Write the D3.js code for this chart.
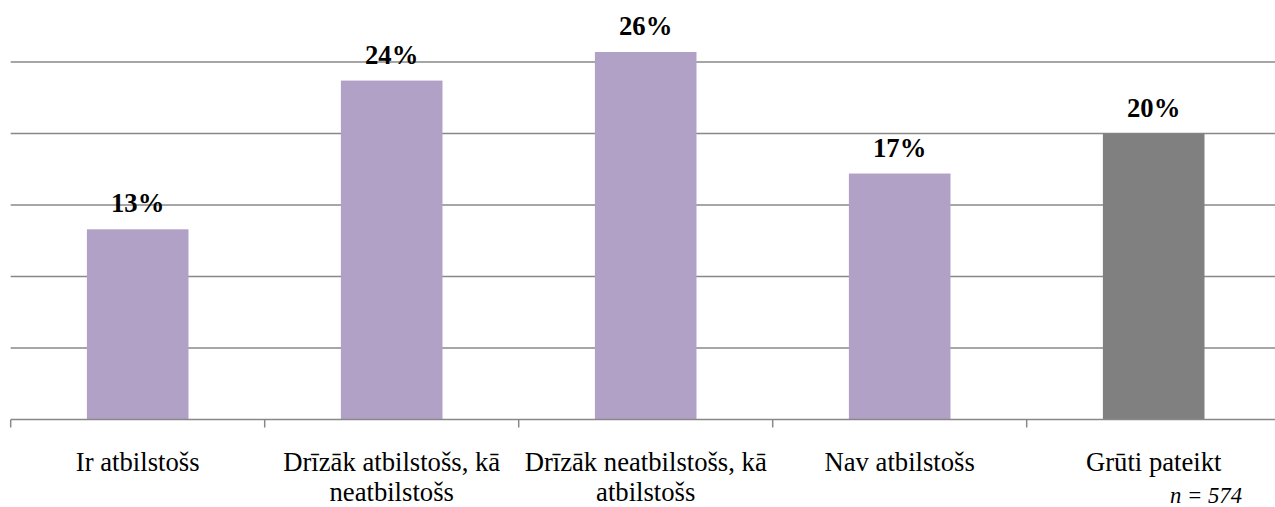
<!DOCTYPE html>
<html>
<head>
<meta charset="utf-8">
<script src="https://cdn.jsdelivr.net/npm/d3@7"></script>
</head>
<body style="margin:0">
<svg id="chart" width="1275" height="507" font-family="Liberation Serif" style="display:block"></svg>
<script>
const categories = [
    "Ir atbilstošs",
    "Drīzāk atbilstošs, kā neatbilstošs",
    "Drīzāk neatbilstošs, kā atbilstošs",
    "Nav atbilstošs",
    "Grūti pateikt"
];
const values = [13.3, 23.7, 25.7, 17.2, 20.0];
const labels = ["13%", "24%", "26%", "17%", "20%"];
const colors = ["#b2a1c7", "#b2a1c7", "#b2a1c7", "#b2a1c7", "#808080"];
const gridTicks = [5, 10, 15, 20, 25];
const note = "n = 574";

const width = 1275;
const left = 10.7, right = 1280.7;
const zeroY = 419.5, topY = 62; // 0% and 25%

const svg = d3.select("#chart");

// bars take 40% of each category slot, centred
const x = d3.scaleBand()
    .domain(categories)
    .range([left, right])
    .paddingInner(0.6)
    .paddingOuter(0.3);

const y = d3.scaleLinear()
    .domain([0, 25])
    .range([zeroY, topY]);

const step = x.step();

// gridlines
svg.append("g")
    .selectAll("line")
    .data(gridTicks)
    .enter()
    .append("line")
    .attr("x1", left)
    .attr("x2", width)
    .attr("y1", d => y(d))
    .attr("y2", d => y(d))
    .attr("stroke", "#888")
    .attr("stroke-width", 1.5);

// bars
svg.append("g")
    .selectAll("rect")
    .data(values)
    .enter()
    .append("rect")
    .attr("x", (d, i) => x(categories[i]))
    .attr("width", x.bandwidth())
    .attr("y", d => y(d))
    .attr("height", d => y(0) - y(d))
    .attr("fill", (d, i) => colors[i]);

// value labels
svg.append("g")
    .selectAll("text")
    .data(values)
    .enter()
    .append("text")
    .attr("x", (d, i) => x(categories[i]) + x.bandwidth() / 2)
    .attr("y", d => y(d) - 17)
    .attr("text-anchor", "middle")
    .attr("font-family", "Liberation Serif")
    .attr("font-size", 26.67)
    .attr("font-weight", "bold")
    .text((d, i) => labels[i]);

// x axis line and ticks at category borders
const axis = svg.append("g");
axis.append("line")
    .attr("x1", left)
    .attr("x2", width)
    .attr("y1", zeroY)
    .attr("y2", zeroY)
    .attr("stroke", "#888")
    .attr("stroke-width", 1.5);

axis.selectAll(".tick")
    .data(d3.range(categories.length + 1))
    .enter()
    .append("line")
    .attr("class", "tick")
    .attr("x1", i => left + i * step)
    .attr("x2", i => left + i * step)
    .attr("y1", zeroY)
    .attr("y2", zeroY + 8)
    .attr("stroke", "#888")
    .attr("stroke-width", 1.5);

// split a label into lines that fit in one category slot
const probe = svg.append("text")
    .attr("font-family", "Liberation Serif")
    .attr("font-size", 26.67)
    .attr("visibility", "hidden");

function wrapLines(str) {
    const words = str.split(" ");
    const lines = [];
    let line = [];
    words.forEach(w => {
        line.push(w);
        probe.text(line.join(" "));
        if (probe.node().getComputedTextLength() > step - 8 && line.length > 1) {
            line.pop();
            lines.push(line.join(" "));
            line = [w];
        }
    });
    lines.push(line.join(" "));
    return lines;
}

const catLines = [];
categories.forEach(c => {
    wrapLines(c).forEach((l, j) => catLines.push({ cat: c, text: l, row: j }));
});
probe.remove();

// category labels
axis.selectAll(".cat")
    .data(catLines)
    .enter()
    .append("text")
    .attr("class", "cat")
    .attr("text-anchor", "middle")
    .attr("x", d => x(d.cat) + x.bandwidth() / 2)
    .attr("y", d => 470.7 + d.row * 30)
    .attr("font-family", "Liberation Serif")
    .attr("font-size", 26.67)
    .text(d => d.text);

// sample size note
svg.append("text")
    .attr("x", 1242)
    .attr("y", 503)
    .attr("text-anchor", "end")
    .attr("font-family", "Liberation Serif")
    .attr("font-size", 22.7)
    .attr("font-style", "italic")
    .text(note);
</script>
</body>
</html>
